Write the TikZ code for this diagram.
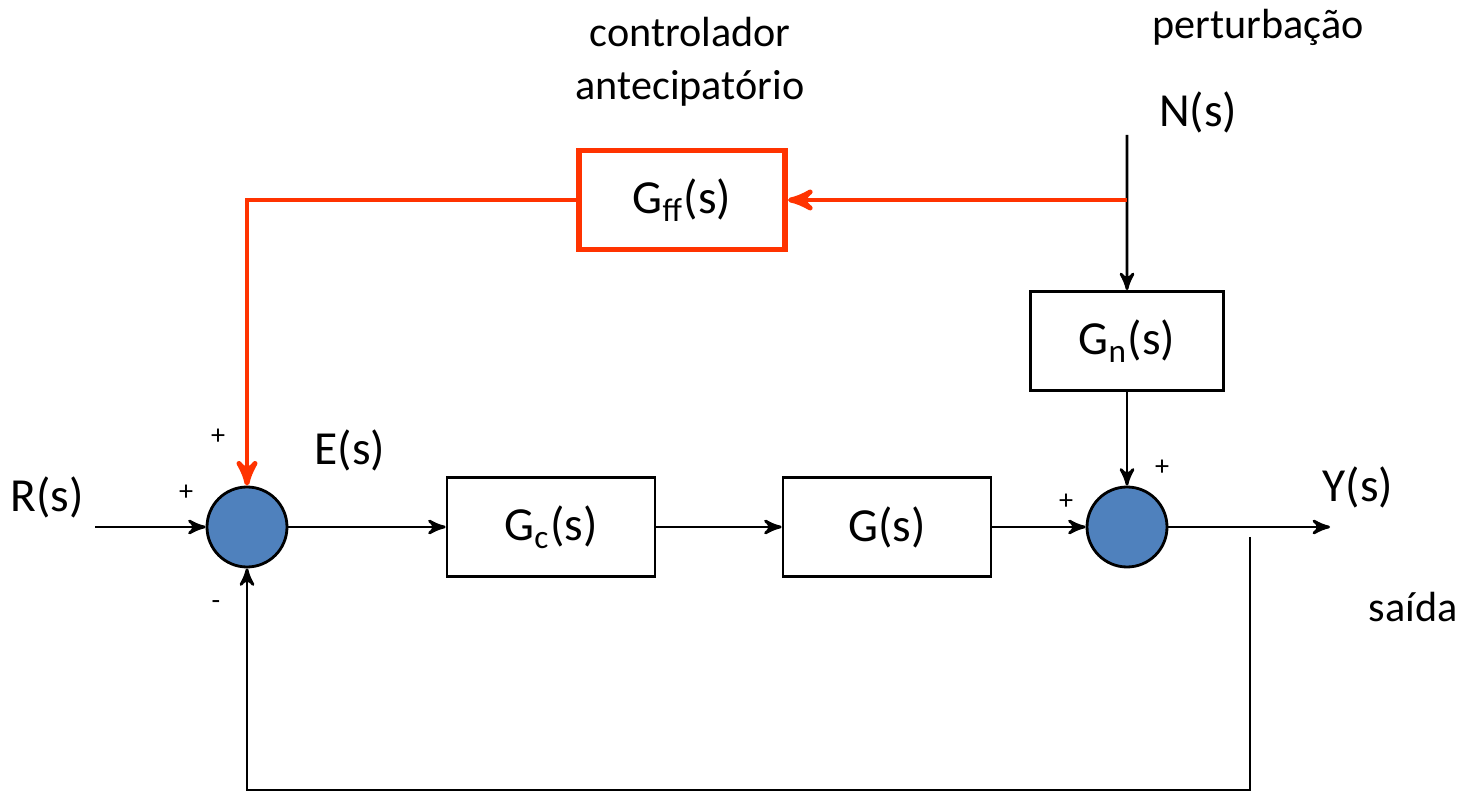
\documentclass[tikz,border=0pt]{standalone}
\usepackage{fontspec}
\setmainfont{Carlito}
\usepackage{tikz}
\usetikzlibrary{arrows}

\definecolor{sumblue}{RGB}{79,129,189}
\definecolor{ffred}{RGB}{255,51,0}

\begin{document}
\begin{tikzpicture}[->,>=stealth',thick,auto]
\tikzstyle{block}=[draw=black,thick,fill=white,minimum width=2.08cm,minimum height=0.99cm,inner sep=0pt,font=\fontsize{13.5}{16}\selectfont]
\tikzstyle{ffblock}=[block,draw=ffred,line width=1.7pt,minimum width=2.06cm,minimum height=0.99cm]
\tikzstyle{sum}=[circle,draw=black,thick,fill=sumblue,minimum size=0.8cm,inner sep=0pt]
\tikzstyle{sig}=[font=\fontsize{13.5}{16}\selectfont]
\tikzstyle{txt}=[font=\fontsize{12}{14}\selectfont]
\tikzstyle{sgn}=[font=\fontsize{8}{9}\selectfont]
\tikzstyle{ffline}=[draw=ffred,line width=1.4pt]
\useasboundingbox (0,0) rectangle (14.64,-7.92);

\node[sum]                                     (s1) at (2.47,-5.27) {};
\node[block, right of=s1, node distance=3.04cm] (gc) {G\textsubscript{c}(s)};
\node[block, right of=gc, node distance=3.36cm] (g)  {G(s)};
\node[sum,   right of=g,  node distance=2.4cm]  (s2) {};
\node[block, above of=s2, node distance=1.86cm, minimum width=1.93cm] (gn) {G\textsubscript{n}(s)};
\node[ffblock]                                 (gff) at (6.82,-2.0) {G\textsubscript{ff}(s)};

\coordinate (rin)  at (0.95,-5.27);
\coordinate (ntop) at (11.27,-1.35);
\coordinate (nbr)  at (11.27,-2.0);
\coordinate (yout) at (13.30,-5.27);
\coordinate (fb)   at (12.50,-5.37);

\node[sig] (r)  at (0.47,-4.97)  {R(s)};
\node[sig] (e)  at (3.50,-4.50)  {E(s)};
\node[sig] (y)  at (13.58,-4.87) {Y(s)};
\node[sig] (n)  at (11.98,-1.12) {N(s)};
\node[txt] (sd) at (14.13,-6.07) {saída};
\node[txt] (pt) at (12.58,-0.27) {perturbação};
\node[txt,align=center] (ct) at (6.90,-0.62) {controlador\\[1pt]antecipatório};

\node[sgn] (p1) at (2.18,-4.37)  {+};
\node[sgn] (p2) at (1.86,-4.93)  {+};
\node[sgn] (m1) at (2.16,-6.05)  {-};
\node[sgn] (p3) at (10.66,-5.02) {+};
\node[sgn] (p4) at (11.62,-4.68) {+};

\draw (rin) -- (s1.west);
\draw (s1.east) -- (gc.west);
\draw (gc.east) -- (g.west);
\draw (g.east) -- (s2.west);
\draw (s2.east) -- (yout);
\draw (ntop) -- (gn.north);
\draw (gn.south) -- (s2.north);
\draw (fb) -- ++(0,-2.53) -| (s1.south);
\draw[ffline] (nbr) -- (gff.east);
\draw[ffline] (gff.west) -| (s1.north);
\end{tikzpicture}
\end{document}
